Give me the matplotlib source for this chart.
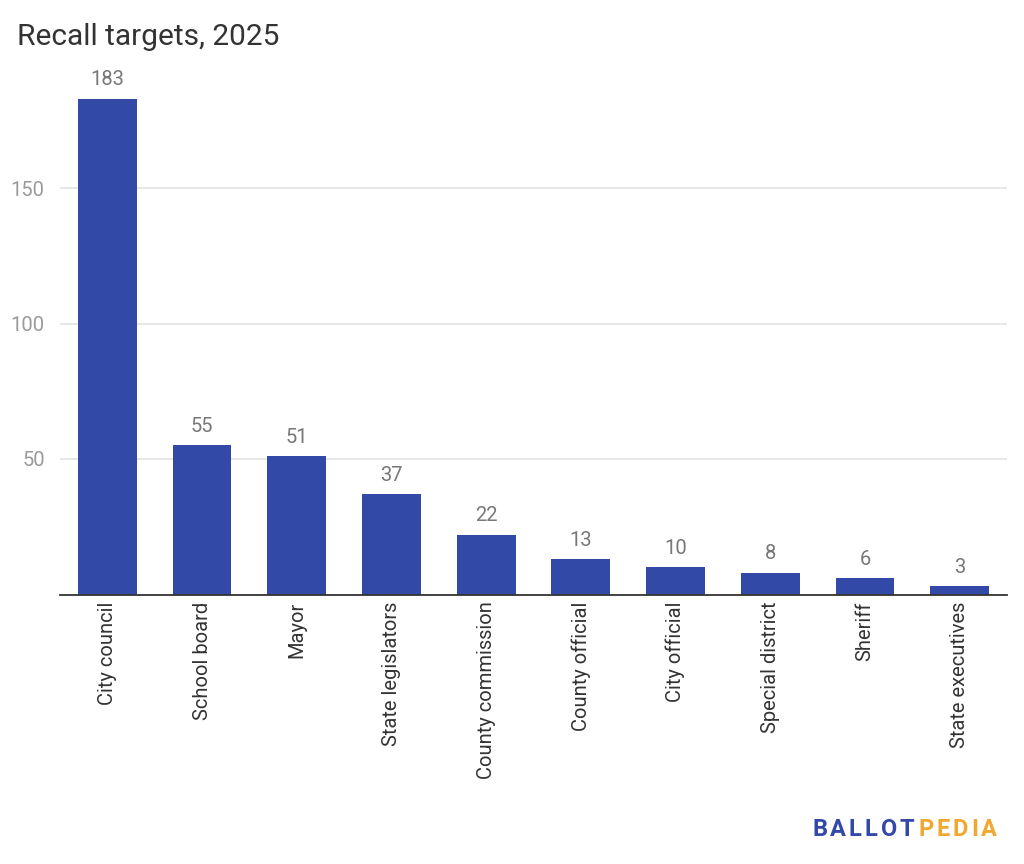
import matplotlib
matplotlib.use("Agg")
import matplotlib.pyplot as plt

categories = ["City council", "School board", "Mayor", "State legislators",
              "County commission", "County official", "City official",
              "Special district", "Sheriff", "State executives"]
values = [183, 55, 51, 37, 22, 13, 10, 8, 6, 3]
y_ticks = [50, 100, 150]
title = "Recall targets, 2025"

plt.rcParams['font.family'] = ['Roboto', 'DejaVu Sans']

fig = plt.figure(figsize=(10.24, 8.64), dpi=100)
ax = fig.add_axes([60/1024, 1 - 594.5/864, 947/1024, (594.5 - 52.5)/864])

x = list(range(len(categories)))
ax.bar(x, values, width=0.62, color="#3349A8", zorder=3)
ax.set_xlim(-0.5, len(categories) - 0.5)
ax.set_ylim(0, 200)
ax.set_yticks(y_ticks)
ax.set_yticklabels([str(t) for t in y_ticks], fontsize=14.5, color="#9a9a9a")
ax.yaxis.grid(True, color="#e3e3e3", linewidth=1.2, zorder=0)
ax.tick_params(axis='y', length=0, pad=11)
ax.set_xticks(x)
ax.set_xticklabels(categories, rotation=90, fontsize=14.5, color="#333333")
ax.tick_params(axis='x', length=0, pad=5)
for s in ["top", "right", "left"]:
    ax.spines[s].set_visible(False)
ax.spines["bottom"].set_color("#333333")
ax.spines["bottom"].set_linewidth(1.3)
ax.spines["bottom"].set_zorder(4)

for xi, v in zip(x, values):
    ax.annotate(str(v), (xi, v), xytext=(0, 7), textcoords="offset points",
                ha="center", va="bottom", fontsize=14.5, color="#777777")

fig.text(17/1024, 1 - 37/864, title, fontsize=21.5, color="#333333",
         ha="left", va="center")

# logo text with letter spacing
fig.canvas.draw()
renderer = fig.canvas.get_renderer()
xpos = 812.0
for word, col in (("BALLOT", "#3349AA"), ("PEDIA", "#F0A830")):
    for ch in word:
        t = fig.text(xpos / 1024, 1 - 830/864, ch, fontsize=17, fontweight="semibold",
                     color=col, ha="left", va="center")
        bb = t.get_window_extent(renderer=renderer)
        xpos = bb.x1 + 3.0
    xpos += 1

fig.savefig("out.png", dpi=100)
